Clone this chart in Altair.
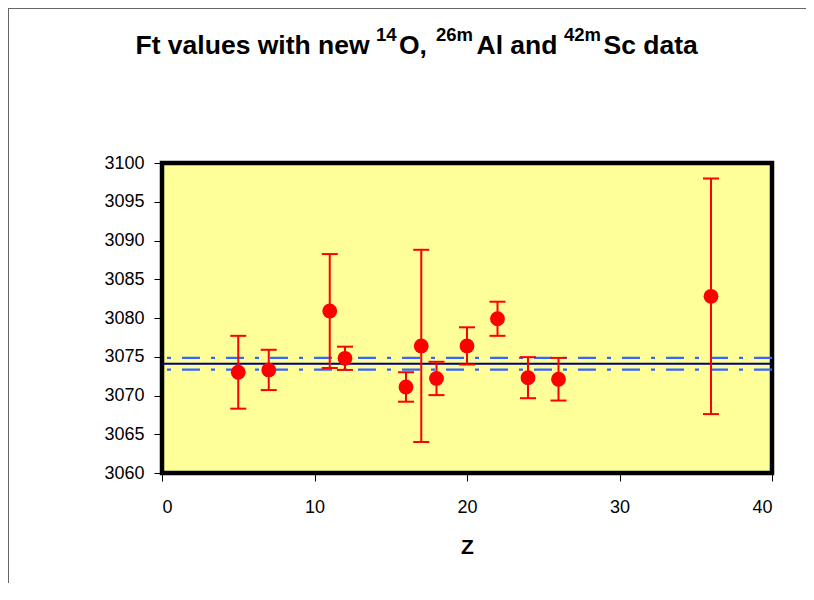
import altair as alt
import pandas as pd

# ---- data ----
z_values = [5, 7, 11, 12, 16, 17, 18, 20, 22, 24, 26, 36]
ft_values = [3073.0, 3073.3, 3080.9, 3074.8, 3071.1, 3076.4, 3072.2, 3076.4, 3079.9, 3072.3, 3072.1, 3082.8]
ft_errors = [4.7, 2.6, 7.35, 1.5, 1.9, 12.4, 2.15, 2.4, 2.2, 2.65, 2.75, 15.2]
mean_ft = [3074.1]
band_ft = [3074.85, 3073.35]
x_ticks = [0, 10, 20, 30, 40]
y_ticks = [3060, 3065, 3070, 3075, 3080, 3085, 3090, 3095, 3100]
title_pieces = ["Ft values with new", "14", "O,", "26m", "Al and", "42m", "Sc data"]
x_title = "Z"

# ---- layout / style ----
W, H = 610, 310
PAD = {"left": 154, "top": 155, "right": 34, "bottom": 110}
FONT = "Liberation Sans, Arial, Helvetica, sans-serif"
# title piece positions relative to plot area (x start, baseline y, size)
title_layout = [(-26.5, -109.5, 26.5), (214.0, -122, 18.5), (237.0, -109.5, 26.5),
                (274.0, -122, 18.5), (314.5, -109.5, 26.5), (402.0, -122, 18.5),
                (441.5, -109.5, 26.5)]

df = pd.DataFrame({
    "Z": z_values,
    "Ft": ft_values,
    "lo": [v - e for v, e in zip(ft_values, ft_errors)],
    "hi": [v + e for v, e in zip(ft_values, ft_errors)],
})

xscale = alt.Scale(domain=[0, 40], nice=False, zero=False)
yscale = alt.Scale(domain=[3060, 3100], nice=False, zero=False)
xaxis = alt.Axis(values=x_ticks, title=x_title, grid=False, domain=False, format="d",
                 tickSize=8, tickColor="#000", tickWidth=1, labelOverlap=False,
                 labelFontSize=18, labelFont=FONT, labelColor="#000", labelPadding=17,
                 titleFontSize=21, titleFont=FONT, titleFontWeight="bold",
                 titleColor="#000", titlePadding=20)
yaxis = alt.Axis(values=y_ticks, title=None, grid=False, domain=False, format="d",
                 tickSize=8, tickColor="#000", tickWidth=1, labelOverlap=False,
                 labelFontSize=18, labelFont=FONT, labelColor="#000", labelPadding=10)

base = alt.Chart(df)

# outer chart border: left and top edges
border_left = alt.Chart(alt.Data(values=[{"a": 1}])).mark_rule(
    color="#666", strokeWidth=1
).encode(x=alt.value(-153.5), y=alt.value(-155), y2=alt.value(H + 110))
border_top = alt.Chart(alt.Data(values=[{"a": 1}])).mark_rect(
    color="#666", opacity=1
).encode(x=alt.value(-154), x2=alt.value(W + 34), y=alt.value(-155), y2=alt.value(-154))

mean_line = alt.Chart(pd.DataFrame({"m": mean_ft})).mark_rule(
    color="#000080", strokeWidth=2
).encode(y=alt.Y("m:Q", scale=yscale, axis=yaxis))

band_lines = alt.Chart(pd.DataFrame({"b": band_ft})).mark_rule(
    color="#3366FF", strokeWidth=2.2, strokeDash=[18, 11, 4, 11]
).encode(y=alt.Y("b:Q", scale=yscale, axis=yaxis))

bars = base.mark_rule(color="#FF0000", strokeWidth=2).encode(
    x=alt.X("Z:Q", scale=xscale, axis=xaxis),
    y=alt.Y("lo:Q", scale=yscale, axis=yaxis),
    y2="hi:Q",
)
cap_top = base.mark_rule(color="#FF0000", strokeWidth=2, xOffset=-8, x2Offset=8).encode(
    x=alt.X("Z:Q", scale=xscale, axis=xaxis), x2="Z:Q",
    y=alt.Y("hi:Q", scale=yscale, axis=yaxis))
cap_bot = base.mark_rule(color="#FF0000", strokeWidth=2, xOffset=-8, x2Offset=8).encode(
    x=alt.X("Z:Q", scale=xscale, axis=xaxis), x2="Z:Q",
    y=alt.Y("lo:Q", scale=yscale, axis=yaxis))
points = base.mark_circle(color="#FF0000", opacity=1, size=220).encode(
    x=alt.X("Z:Q", scale=xscale, axis=xaxis),
    y=alt.Y("Ft:Q", scale=yscale, axis=yaxis))

title_layers = []
for piece, (tx, ty, ts) in zip(title_pieces, title_layout):
    title_layers.append(
        alt.Chart(alt.Data(values=[{"t": piece}])).mark_text(
            align="left", baseline="alphabetic", font=FONT, fontWeight="bold",
            fontSize=ts, color="#000"
        ).encode(x=alt.value(tx), y=alt.value(ty), text="t:N")
    )

chart = alt.layer(
    border_left, border_top, mean_line, band_lines, bars, cap_top, cap_bot, points,
    *title_layers
).properties(
    width=W, height=H, padding=PAD,
    autosize=alt.AutoSizeParams(type="none"),
).configure_view(
    fill="#FFFF99", stroke="#000", strokeWidth=4.5
)

chart.save("out.html", embed_options={"renderer": "svg", "actions": False})
